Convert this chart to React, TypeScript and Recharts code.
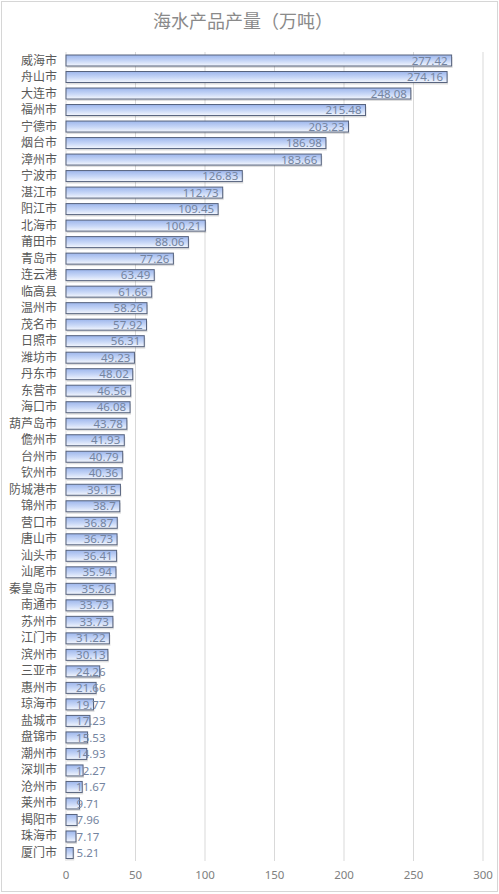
import { Bar, BarChart, CartesianGrid, LabelList, XAxis, YAxis } from "recharts";

const cities = [
  "威海市", "舟山市", "大连市", "福州市", "宁德市", "烟台市", "漳州市", "宁波市",
  "湛江市", "阳江市", "北海市", "莆田市", "青岛市", "连云港", "临高县", "温州市",
  "茂名市", "日照市", "潍坊市", "丹东市", "东营市", "海口市", "葫芦岛市", "儋州市",
  "台州市", "钦州市", "防城港市", "锦州市", "营口市", "唐山市", "汕头市", "汕尾市",
  "秦皇岛市", "南通市", "苏州市", "江门市", "滨州市", "三亚市", "惠州市", "琼海市",
  "盐城市", "盘锦市", "潮州市", "深圳市", "沧州市", "莱州市", "揭阳市", "珠海市", "厦门市",
];

const output = [
  277.42, 274.16, 248.08, 215.48, 203.23, 186.98, 183.66, 126.83,
  112.73, 109.45, 100.21, 88.06, 77.26, 63.49, 61.66, 58.26,
  57.92, 56.31, 49.23, 48.02, 46.56, 46.08, 43.78, 41.93,
  40.79, 40.36, 39.15, 38.7, 36.87, 36.73, 36.41, 35.94,
  35.26, 33.73, 33.73, 31.22, 30.13, 24.26, 21.66, 19.77,
  17.23, 15.53, 14.93, 12.27, 11.67, 9.71, 7.96, 7.17, 5.21,
];

const xTicks = [0, 50, 100, 150, 200, 250, 300];

const data = cities.map((name, i) => ({ name, value: output[i] }));

const cjk = "'Noto Sans CJK SC', 'Noto Sans', sans-serif";

function BarShape(props: any) {
  const { x, y, width, height } = props;
  return (
    <g>
      <rect x={x + 1} y={y + 2} width={width} height={height} fill="#000" opacity={0.13} />
      <rect
        x={x}
        y={y}
        width={width}
        height={height}
        fill="url(#barFill)"
        stroke="#56627d"
        strokeWidth={1}
      />
    </g>
  );
}

function ValueLabel(props: any) {
  const { x, y, width, height, value } = props;
  const text = String(value);
  // inside end, but never start left of the axis
  const end = Math.max(x + width - 4, x + 9 + text.length * 6.1);
  return (
    <text
      x={end}
      y={y + height / 2}
      dy="0.36em"
      textAnchor="end"
      fontSize={11.5}
      fill="#7484a0"
      fontFamily="'Noto Sans', sans-serif"
    >
      {text}
    </text>
  );
}

export default function App() {
  return (
    <div
      style={{
        position: "absolute",
        left: 0,
        top: 0,
        width: 499,
        height: 894,
        background: "#fff",
      }}
    >
      <div
        style={{
          position: "absolute",
          left: 1,
          top: 1,
          width: 495,
          height: 889,
          border: "1px solid #d6d6d6",
        }}
      />
      <div
        style={{
          position: "absolute",
          left: 0,
          top: 7,
          width: 486,
          textAlign: "center",
          fontFamily: cjk,
          fontSize: 18,
          color: "#8a8a8a",
        }}
      >
        海水产品产量（万吨）
      </div>
      <BarChart
        width={499}
        height={894}
        data={data}
        layout="vertical"
        margin={{ top: 52, right: 16, bottom: 13, left: 0 }}
        barSize={11}
      >
        <defs>
          <linearGradient id="barFill" x1="0" y1="0" x2="0" y2="1">
            <stop offset="0%" stopColor="#9db6ec" />
            <stop offset="55%" stopColor="#c9d8f7" />
            <stop offset="100%" stopColor="#f4f7fd" />
          </linearGradient>
        </defs>
        <CartesianGrid horizontal={false} stroke="#d9d9d9" />
        <XAxis
          type="number"
          domain={[0, 300]}
          ticks={xTicks}
          axisLine={false}
          tickLine={false}
          tickSize={0}
          tickMargin={10}
          height={20}
          tick={{ fontSize: 11.5, fill: "#808080", fontFamily: "'Noto Sans', sans-serif" }}
        />
        <YAxis
          type="category"
          dataKey="name"
          width={66}
          interval={0}
          axisLine={false}
          tickLine={false}
          tickSize={0}
          tickMargin={9}
          tick={{ fontSize: 12, fill: "#595959", fontFamily: cjk }}
        />
        <Bar dataKey="value" shape={BarShape} isAnimationActive={false}>
          <LabelList dataKey="value" content={ValueLabel} />
        </Bar>
      </BarChart>
    </div>
  );
}
